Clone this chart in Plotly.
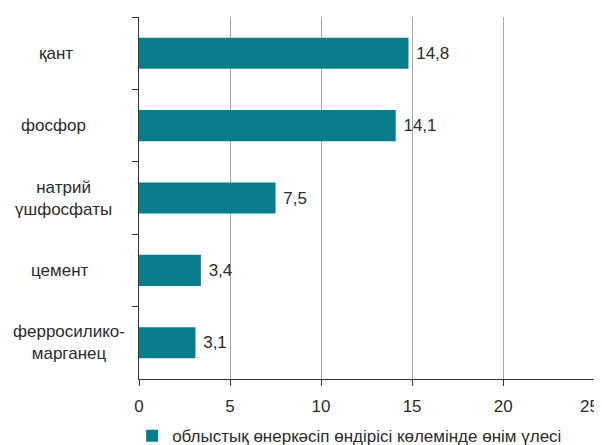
import plotly.graph_objects as go

categories = ["қант", "фосфор", "натрий<br>үшфосфаты", "цемент", "ферросилико-<br>марганец"]
values = [14.8, 14.1, 7.5, 3.4, 3.1]
value_labels = ["14,8", "14,1", "7,5", "3,4", "3,1"]
series_name = "облыстық өнеркәсіп өндірісі көлемінде өнім үлесі"
x_ticks = [0, 5, 10, 15, 20, 25]
x_tick_text = ["0", "5", "10", "15", "20", "25"]

FONT = "Liberation Sans, Arial, sans-serif"
TXT = "#2b2b2b"
BAR = "#0a7d8c"
FS = 17

# page body has an 8px default margin; figure spans 8..602 x 8..445
W, H = 594, 437
ML, MR, MT, MB = 131, 6, 9, 66
PW = W - ML - MR
# horizontal centre (page px) of each category label, as placed in the original
label_centres = [56, 53, 63, 60, 69]

fig = go.Figure()
fig.add_trace(go.Bar(
    x=values, y=categories, orientation="h",
    marker=dict(color=BAR, line=dict(width=0)),
    width=0.43,
    text=value_labels, texttemplate=" %{text}", textposition="outside",
    textfont=dict(family=FONT, size=FS, color=TXT),
    cliponaxis=False,
    name=series_name, showlegend=True,
))

for c, cx in zip(categories, label_centres):
    fig.add_annotation(
        x=((cx - 8) - ML) / PW, xref="paper", y=c, yref="y",
        text=c, showarrow=False, xanchor="center", yanchor="middle",
        align="center", font=dict(family=FONT, size=FS, color=TXT),
    )

# last tick label is nudged left so it stays inside the page
fig.add_annotation(
    x=x_ticks[-1], xref="x", y=0, yref="paper", xanchor="center", yanchor="middle",
    xshift=-5, yshift=-27, text=x_tick_text[-1], showarrow=False,
    font=dict(family=FONT, size=FS, color=TXT),
)

fig.update_layout(
    width=W, height=H,
    margin=dict(l=ML, r=MR, t=MT, b=MB, autoexpand=False),
    paper_bgcolor="white", plot_bgcolor="white",
    font=dict(family=FONT, size=FS, color=TXT),
    bargap=0.57,
    legend=dict(orientation="h", x=-0.015, xanchor="left",
                y=0.02, yref="container", yanchor="middle",
                font=dict(family=FONT, size=FS, color=TXT),
                itemwidth=30, bgcolor="rgba(0,0,0,0)"),
    xaxis=dict(
        range=[0, 25.1], tickvals=x_ticks, ticktext=x_tick_text[:-1] + [""],
        showgrid=True, gridcolor="#a8a8a8", gridwidth=1.4,
        showline=True, linecolor="#333333", linewidth=1.3,
        ticks="outside", ticklen=6, tickcolor="#333333", tickwidth=1.3,
        tickfont=dict(family=FONT, size=FS, color=TXT),
        ticklabelstandoff=5,
        zeroline=False, fixedrange=True, automargin=False,
    ),
    yaxis=dict(
        autorange="reversed",
        showticklabels=False,
        showline=True, linecolor="#333333", linewidth=1.3,
        ticks="outside", ticklen=6, tickcolor="#333333", tickwidth=1.3,
        tickson="boundaries",
        showgrid=False, fixedrange=True, automargin=False,
    ),
)

fig.write_html("out.html")
